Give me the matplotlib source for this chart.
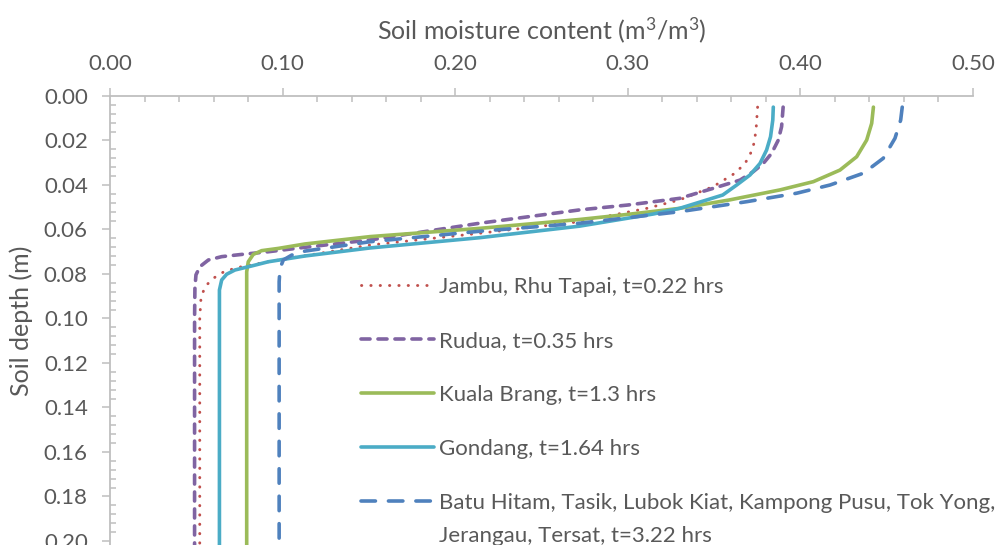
import matplotlib
matplotlib.use("Agg")
import matplotlib.pyplot as plt
from matplotlib.ticker import MultipleLocator, FormatStrFormatter

plt.rcParams['font.family'] = ['Lato', 'DejaVu Sans']
plt.rcParams['mathtext.fontset'] = 'custom'
plt.rcParams['mathtext.rm'] = 'Lato'
plt.rcParams['mathtext.it'] = 'Lato:italic'

# Soil moisture profiles (theta in m3/m3, depth in m)
jambu_theta = [0.3752, 0.3743, 0.3731, 0.3708, 0.3679, 0.3621, 0.3495, 0.330, 0.311, 0.290,
               0.272, 0.214, 0.1506, 0.113, 0.0917, 0.0763, 0.0666, 0.0599, 0.055, 0.0527, 0.052, 0.052]
jambu_depth = [0.005, 0.0153, 0.0213, 0.0265, 0.0303, 0.0347, 0.0407, 0.0467, 0.0505, 0.0537,
               0.0565, 0.0617, 0.067, 0.0718, 0.0745, 0.0767, 0.0787, 0.0819, 0.0857, 0.0909, 0.10, 0.21]

rudua_theta = [0.390, 0.3891, 0.3872, 0.3833, 0.3785, 0.3727, 0.365, 0.3495, 0.330, 0.300, 0.272,
               0.214, 0.1506, 0.113, 0.0917, 0.0763, 0.0647, 0.057, 0.0521, 0.0498, 0.0492, 0.049, 0.049]
rudua_depth = [0.005, 0.0138, 0.0198, 0.0258, 0.0303, 0.034, 0.0378, 0.0415, 0.046, 0.049, 0.0512,
               0.0572, 0.0647, 0.068, 0.070, 0.0712, 0.0722, 0.0737, 0.0767, 0.0804, 0.0864, 0.10, 0.21]

kuala_theta = [0.4423, 0.4413, 0.4384, 0.4326, 0.4229, 0.4075, 0.3882, 0.359, 0.330, 0.300, 0.272,
               0.214, 0.1506, 0.113, 0.0975, 0.0879, 0.083, 0.0801, 0.0792, 0.0792, 0.0792]
kuala_depth = [0.005, 0.0123, 0.0198, 0.0273, 0.0333, 0.0385, 0.0422, 0.0467, 0.0505, 0.0532, 0.0555,
               0.0595, 0.0632, 0.0665, 0.0685, 0.0695, 0.0712, 0.0745, 0.079, 0.10, 0.21]

gondang_theta = [0.3843, 0.384, 0.3827, 0.3804, 0.3766, 0.3708, 0.3631, 0.355, 0.330, 0.315, 0.272,
                 0.214, 0.1506, 0.113, 0.0917, 0.082, 0.0724, 0.0676, 0.0647, 0.0634, 0.0634, 0.0634]
gondang_depth = [0.005, 0.0108, 0.0183, 0.0243, 0.0303, 0.0355, 0.040, 0.0445, 0.0505, 0.0530, 0.0585,
                 0.0637, 0.0683, 0.0719, 0.0745, 0.0764, 0.0782, 0.0801, 0.0827, 0.0872, 0.10, 0.21]

batu_theta = [0.459, 0.4581, 0.4548, 0.448, 0.4365, 0.4172, 0.3978, 0.3689, 0.330, 0.272, 0.214,
              0.1506, 0.113, 0.1053, 0.1004, 0.0985, 0.098, 0.098, 0.098]
batu_depth = [0.005, 0.0108, 0.019, 0.028, 0.0347, 0.040, 0.0437, 0.0475, 0.052, 0.0572, 0.0608,
              0.0655, 0.0697, 0.0715, 0.0737, 0.0775, 0.0835, 0.10, 0.21]

labels = ["Jambu, Rhu Tapai, t=0.22 hrs",
          "Rudua, t=0.35 hrs",
          "Kuala Brang, t=1.3 hrs",
          "Gondang, t=1.64 hrs",
          "Batu Hitam, Tasik, Lubok Kiat, Kampong Pusu, Tok Yong,"]
label_cont = "Jerangau, Tersat, t=3.22 hrs"

GRAY = '#bfbfbf'
TXT = '#595959'

fig = plt.figure(figsize=(9.97, 5.45), dpi=100)
ax = fig.add_axes([110 / 997, 0, 863 / 997, 449 / 545])

ax.plot(jambu_theta, jambu_depth, color='#c0504d', lw=2.1, linestyle=(0, (0.1, 3.1)),
        dash_capstyle='round', label=labels[0])
ax.plot(rudua_theta, rudua_depth, color='#8064a2', lw=2.6, linestyle=(0, (2.5, 2.2)),
        dash_capstyle='round', label=labels[1])
ax.plot(kuala_theta, kuala_depth, color='#9bbb59', lw=2.6, solid_capstyle='round', label=labels[2])
ax.plot(gondang_theta, gondang_depth, color='#4bacc6', lw=2.6, solid_capstyle='round', label=labels[3])
ax.plot(batu_theta, batu_depth, color='#4f81bd', lw=2.6, linestyle=(0, (4, 3.6)),
        dash_capstyle='round', label=labels[4])

ax.set_xlim(0, 0.5)
ax.set_ylim(0.2018, 0)

ax.xaxis.tick_top()
ax.xaxis.set_label_position('top')
ax.xaxis.set_major_locator(MultipleLocator(0.1))
ax.xaxis.set_minor_locator(MultipleLocator(0.02))
ax.yaxis.set_major_locator(MultipleLocator(0.02))
ax.yaxis.set_minor_locator(MultipleLocator(0.004))
ax.xaxis.set_major_formatter(FormatStrFormatter('%.2f'))
ax.yaxis.set_major_formatter(FormatStrFormatter('%.2f'))

for s in ['right', 'bottom']:
    ax.spines[s].set_visible(False)
for s in ['top', 'left']:
    ax.spines[s].set_color(GRAY)
    ax.spines[s].set_linewidth(1.3)

ax.tick_params(which='major', direction='out', length=6, width=1.1, color=GRAY,
               labelsize=16, labelcolor=TXT, pad=10)
ax.tick_params(which='minor', direction='in', length=4, width=1.1, color=GRAY)

ax.set_xlabel('Soil moisture content (m$^3$/m$^3$)', fontsize=18, color=TXT, labelpad=11)
ax.set_ylabel('Soil depth (m)', fontsize=18, color=TXT, labelpad=8)

leg = ax.legend(loc='upper left', bbox_to_anchor=(361 / 997, 1 - 277 / 545),
                bbox_transform=fig.transFigure, frameon=False, fontsize=16,
                handlelength=3.3, handletextpad=0.22, labelspacing=1.53, borderpad=0,
                borderaxespad=0)
for t in leg.get_texts():
    t.set_color(TXT)

# second line of the last legend label, set 33 px under the first line
fig.canvas.draw()
bb = leg.get_texts()[4].get_window_extent()
fig.text(bb.x0 / 997, (bb.y0 - 33) / 545, label_cont, fontsize=16, color=TXT,
         ha='left', va='bottom')

fig.savefig('out.png', dpi=100)
